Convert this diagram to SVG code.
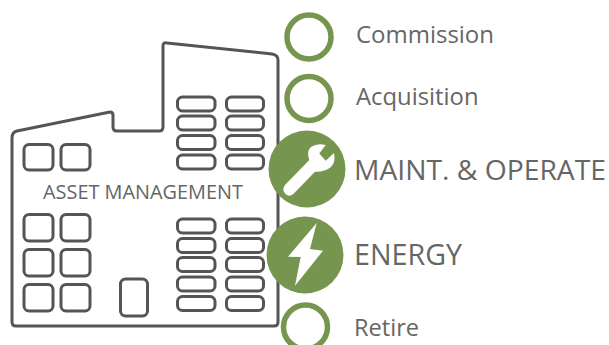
<svg xmlns="http://www.w3.org/2000/svg" width="609" height="345" viewBox="0 0 609 345">
<style>
.w{fill:none;stroke:#555;stroke-width:3}
.r{fill:none;stroke:#76964f;stroke-width:5.5}
.s{fill:#76964f}
.t{font-family:"Open Sans",sans-serif;fill:#666}
</style>
<rect width="609" height="345" fill="#fff"/>
<g id="building">
<path class="w" stroke-linejoin="round" d="M12 138Q12 132 17 131L110 112Q113 112 113 115V127Q113 131 117 131H159Q163 131 163 127V46Q163 42 167 43L272 54Q278 55 278 60V322Q278 326 274 326H16Q12 326 12 322Z"/>
<g id="windows">
<rect class="w" x="24" y="144.500" width="29" height="25.500" rx="5"/><rect class="w" x="61" y="144.500" width="29" height="25.500" rx="5"/>
<rect class="w" x="24" y="214.500" width="29" height="26.500" rx="5"/><rect class="w" x="61" y="214.500" width="29" height="26.500" rx="5"/>
<rect class="w" x="24" y="249.500" width="29" height="26.500" rx="5"/><rect class="w" x="61" y="249.500" width="29" height="26.500" rx="5"/>
<rect class="w" x="24" y="284.500" width="29" height="26.500" rx="5"/><rect class="w" x="61" y="284.500" width="29" height="26.500" rx="5"/>
<rect class="w" x="120.500" y="279" width="27" height="37" rx="5"/>
<rect class="w" x="177.500" y="97" width="37.500" height="14" rx="5"/><rect class="w" x="226.500" y="97" width="37" height="14" rx="5"/>
<rect class="w" x="177.500" y="116" width="37.500" height="14" rx="5"/><rect class="w" x="226.500" y="116" width="37" height="14" rx="5"/>
<rect class="w" x="177.500" y="135.500" width="37.500" height="14" rx="5"/><rect class="w" x="226.500" y="135.500" width="37" height="14" rx="5"/>
<rect class="w" x="177.500" y="155" width="37.500" height="14" rx="5"/><rect class="w" x="226.500" y="155" width="37" height="14" rx="5"/>
<rect class="w" x="177.500" y="219" width="37.500" height="14" rx="5"/><rect class="w" x="226.500" y="219" width="37" height="14" rx="5"/>
<rect class="w" x="177.500" y="238.500" width="37.500" height="14" rx="5"/><rect class="w" x="226.500" y="238.500" width="37" height="14" rx="5"/>
<rect class="w" x="177.500" y="257.500" width="37.500" height="14" rx="5"/><rect class="w" x="226.500" y="257.500" width="37" height="14" rx="5"/>
<rect class="w" x="177.500" y="277" width="37.500" height="14" rx="5"/><rect class="w" x="226.500" y="277" width="37" height="14" rx="5"/>
<rect class="w" x="177.500" y="296.500" width="37.500" height="14" rx="5"/><rect class="w" x="226.500" y="296.500" width="37" height="14" rx="5"/>
</g>
<text class="t" x="43" y="199" font-size="20" textLength="200" lengthAdjust="spacingAndGlyphs">ASSET MANAGEMENT</text>
</g>
<g id="commission"><circle class="r" cx="309" cy="37" r="22"/><text class="t" x="356" y="43" font-size="24" textLength="138" lengthAdjust="spacingAndGlyphs">Commission</text></g>
<g id="acquisition"><circle class="r" cx="309" cy="98.500" r="22"/><text class="t" x="356" y="105" font-size="24" textLength="122.500" lengthAdjust="spacingAndGlyphs">Acquisition</text></g>
<g id="maintain"><circle class="s" cx="307" cy="169" r="38.500"/>
<path fill="#fff" d="M285 185L309.300 160Q306 151 311 147Q317 143 325.700 145L319.300 153.500L325.700 160.700L334 153Q336 162 331 167Q325 172 315 171.700L293.300 194Q289 197.500 285.500 194Q281.500 189.500 285 185Z"/>
<text class="t" x="354" y="180" font-size="28" textLength="252" lengthAdjust="spacingAndGlyphs">MAINT. &amp; OPERATE</text></g>
<g id="energy"><circle class="s" cx="305" cy="255" r="38.500"/>
<path fill="#fff" d="M316.700 223L310 249L323 250.700L295 285.700L300.700 257L288 256.700Z"/>
<text class="t" x="354" y="265" font-size="29" textLength="108" lengthAdjust="spacingAndGlyphs">ENERGY</text></g>
<g id="retire"><circle class="r" cx="305.500" cy="327" r="22"/><text class="t" x="354" y="336" font-size="23" textLength="65" lengthAdjust="spacingAndGlyphs">Retire</text></g>
<g id="connectors"/>
</svg>
